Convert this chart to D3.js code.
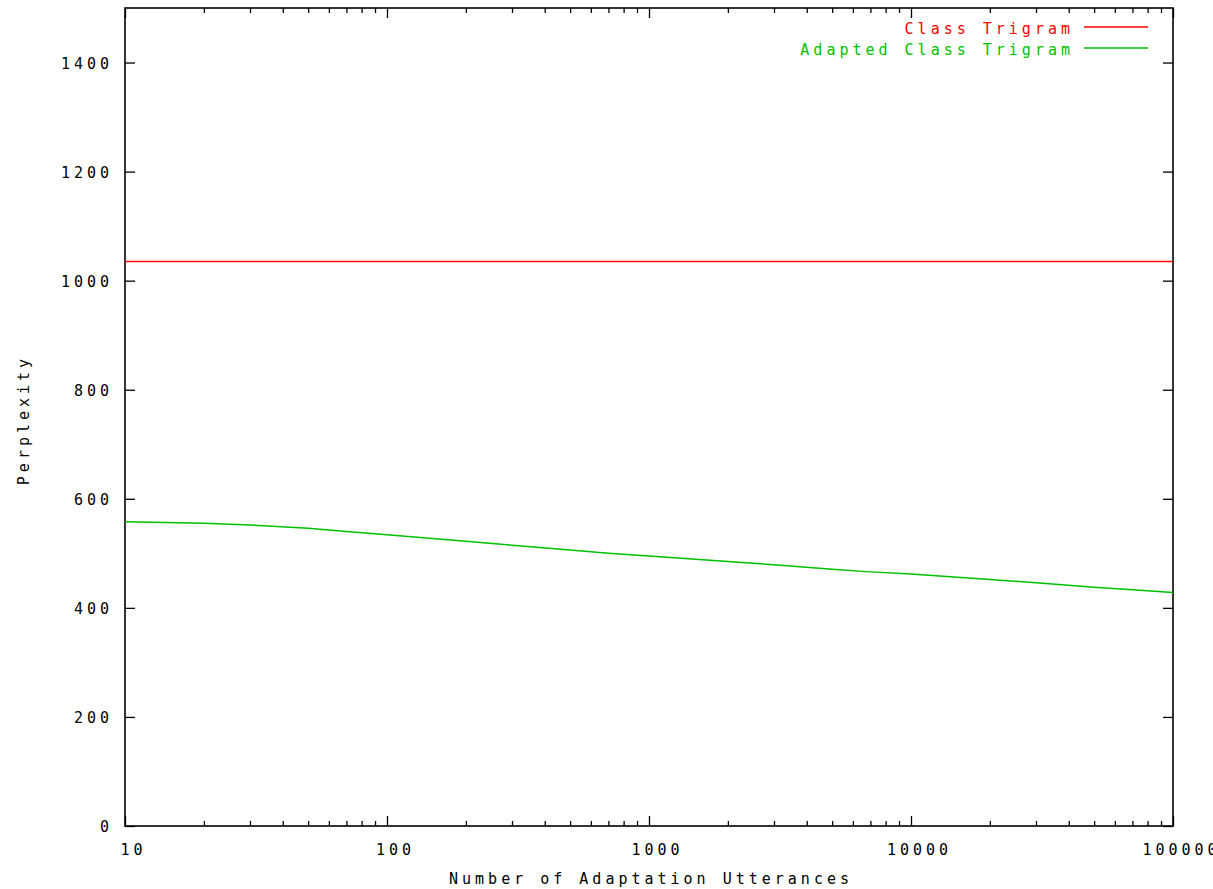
<!DOCTYPE html>
<html>
<head>
<meta charset="utf-8">
<script src="https://cdn.jsdelivr.net/npm/d3@7"></script>
<style>
  body { margin: 0; background: #fff; }
  svg text { font-family: "DejaVu Sans Mono", monospace; font-size: 15px; letter-spacing: 4px; fill: #000; }
</style>
</head>
<body>
<div id="chart"></div>
<script>
// data
var utterances = [10, 20, 30, 50, 70, 100, 200, 300, 500, 700, 1000, 2000, 3000, 5000, 7000, 10000, 20000, 30000, 50000, 70000, 100000];
var adapted = [558, 555, 552, 546, 540, 534, 522, 515, 506, 500, 495, 485, 479, 471, 466, 462, 452, 446, 438, 433, 428];
var baseline = 1035;
var yTicks = [0, 200, 400, 600, 800, 1000, 1200, 1400];
var xTicks = [10, 100, 1000, 10000, 100000];
var seriesNames = ["Class Trigram", "Adapted Class Trigram"];
var seriesColors = ["#ff0000", "#00c000"];

var W = 1213, H = 889;
var margin = { top: 8, right: 40, bottom: 63, left: 125 },
    width = W - margin.left - margin.right,
    height = H - margin.top - margin.bottom;

var svg = d3.select("#chart").append("svg")
    .attr("width", W).attr("height", H);
var g = svg.append("g")
    .attr("transform", "translate(" + margin.left + "," + margin.top + ")");

var x = d3.scaleLog().domain([10, 100000]).range([0, width]);
var y = d3.scaleLinear().domain([0, 1500]).range([height, 0]);

// minor x ticks (2..9 of each decade)
var minor = [];
for (var d = 10; d < 100000; d *= 10)
  for (var k = 2; k <= 9; k++) minor.push(d * k);

function styleAxis(sel) {
  sel.attr("font-size", null).attr("font-family", null);
  sel.select(".domain").remove();
  sel.selectAll(".tick line").attr("stroke", "#000").attr("stroke-width", 1.3);
}

// bottom major
g.append("g").attr("transform", "translate(0," + height + ")")
  .call(d3.axisBottom(x).tickValues(xTicks).tickSizeInner(-10).tickSizeOuter(0).tickFormat(d3.format("d")))
  .call(styleAxis)
  .selectAll("text").attr("y", 29).attr("dy", null).attr("dx", "8px");
g.append("g").attr("transform", "translate(0," + height + ")")
  .call(d3.axisBottom(x).tickValues(minor).tickSizeInner(-5).tickSizeOuter(0).tickFormat(""))
  .call(styleAxis);
// top
g.append("g")
  .call(d3.axisTop(x).tickValues(xTicks).tickSizeInner(-10).tickSizeOuter(0).tickFormat(""))
  .call(styleAxis);
g.append("g")
  .call(d3.axisTop(x).tickValues(minor).tickSizeInner(-5).tickSizeOuter(0).tickFormat(""))
  .call(styleAxis);
// left
g.append("g")
  .call(d3.axisLeft(y).tickValues(yTicks).tickSizeInner(-10).tickSizeOuter(0).tickPadding(12).tickFormat(d3.format("d")))
  .call(styleAxis)
  .selectAll("text").attr("x", -16 + 4).attr("dy", "0.38em");
// right
g.append("g").attr("transform", "translate(" + width + ",0)")
  .call(d3.axisRight(y).tickValues(yTicks).tickSizeInner(-10).tickSizeOuter(0).tickFormat(""))
  .call(styleAxis);

// frame
g.append("rect").attr("width", width).attr("height", height)
  .attr("fill", "none").attr("stroke", "#000").attr("stroke-width", 1.6);

// class trigram (flat)
g.append("line")
  .attr("x1", x(10)).attr("x2", x(100000))
  .attr("y1", y(baseline)).attr("y2", y(baseline))
  .attr("stroke", seriesColors[0]).attr("stroke-width", 1.5);

// adapted class trigram
var line = d3.line().x(function(d, i) { return x(utterances[i]); }).y(function(d) { return y(d); });
g.append("path").datum(adapted)
  .attr("d", line).attr("fill", "none")
  .attr("stroke", seriesColors[1]).attr("stroke-width", 1.5);

// legend
seriesNames.forEach(function(name, i) {
  var ly = 19 + i * 21;
  g.append("text").attr("x", 945 + 4).attr("y", ly + 7)
    .attr("text-anchor", "end").style("fill", seriesColors[i]).text(name);
  g.append("line").attr("x1", 959).attr("x2", 1023)
    .attr("y1", ly).attr("y2", ly)
    .attr("stroke", seriesColors[i]).attr("stroke-width", 1.5);
});

// axis titles
svg.append("text").attr("x", 651).attr("y", 884)
  .attr("text-anchor", "middle").text("Number of Adaptation Utterances");
svg.append("text").attr("transform", "translate(29,420) rotate(-90)")
  .attr("text-anchor", "middle").text("Perplexity");
</script>
</body>
</html>
